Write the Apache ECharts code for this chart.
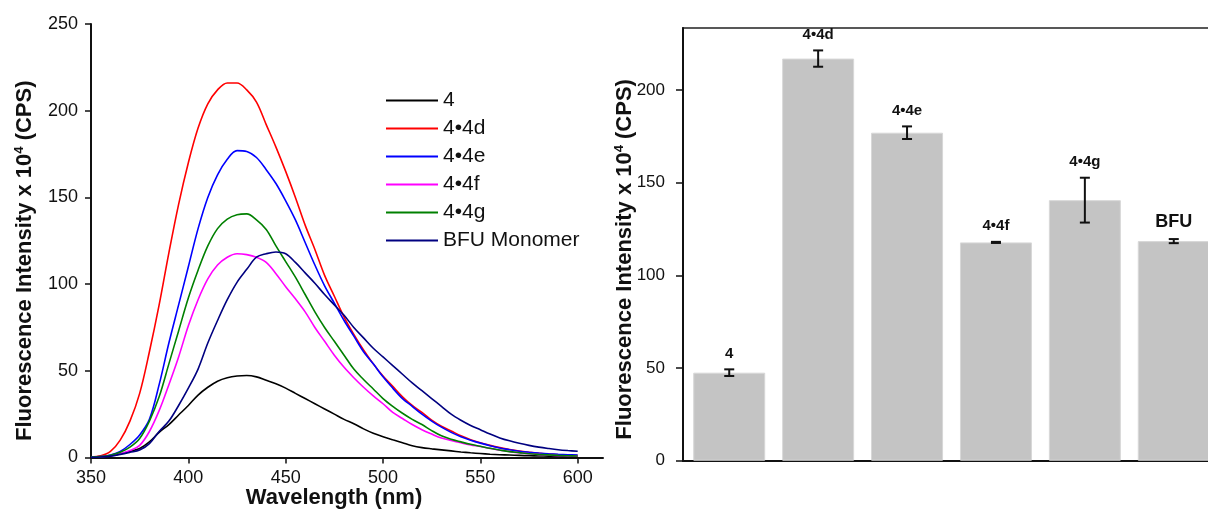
<!DOCTYPE html>
<html lang="en">
<head>
<meta charset="UTF-8">
<title>Fluorescence spectra and intensities</title>
<script src="https://cdn.jsdelivr.net/npm/echarts@6/dist/echarts.min.js"></script>
<style>
    * { margin: 0; padding: 0; }
    body { background: #fff; }
    #chart { width: 1208px; height: 510px; }
</style>
</head>
<body>
<div id="chart"></div>
<script>
    var wavelengths = [350, 355, 360, 365, 370, 375, 380, 385, 390, 395, 400, 405, 410, 415, 420, 425, 430, 435, 440, 445,
        450, 455, 460, 465, 470, 475, 480, 485, 490, 495, 500, 505, 510, 515, 520, 525, 530, 535, 540, 545,
        550, 555, 560, 565, 570, 575, 580, 585, 590, 595, 600];
    var curve4 = [0.2, 0.5, 1, 2, 3.5, 5.2, 9, 14.5, 19, 24.5, 30, 36, 40.5, 44, 46, 47, 47.3, 46.5, 44.5, 42.5,
        40, 37, 34, 31, 28, 25, 22, 19.5, 16.5, 14, 12, 10.2, 8.5, 6.8, 5.7, 5.0, 4.4, 3.8, 3.2, 2.7,
        2.3, 1.9, 1.6, 1.4, 1.2, 1.0, 0.9, 0.8, 0.7, 0.6, 0.6];
    var curve4d = [0.3, 1, 3.5, 10, 21, 37, 61, 88, 118, 146, 170, 190, 204, 212, 216, 216, 212, 205, 192, 179,
        165, 150, 134, 120, 105, 93, 81, 71, 62, 54, 47, 41, 35, 30, 26, 21.5, 18, 15.3, 12.5, 10.3,
        8.5, 7, 5.7, 4.6, 3.7, 3, 2.4, 2, 1.6, 1.3, 1.1];
    var curve4e = [0.2, 0.5, 1.5, 3.5, 7.5, 13, 22, 42, 66, 88, 110, 132, 150, 163, 172, 177, 176.5, 173, 166, 158,
        148, 137, 124, 111, 99, 89, 79, 70, 61, 54, 46.5, 40, 34, 29.5, 25, 21, 17.5, 14.5, 12, 10,
        8.3, 6.8, 5.5, 4.5, 3.6, 3, 2.5, 2.1, 1.8, 1.6, 1.4];
    var curve4f = [0.2, 0.4, 1, 2.2, 4, 7, 15, 27, 42, 58, 76, 91, 103, 111, 115.5, 117.5, 117, 115.5, 112.5, 106,
        98.5, 91.5, 84, 75, 67, 59, 52, 46, 40.5, 35.5, 31, 26, 22.5, 19, 16, 13.5, 11.2, 9.8, 8.5, 7.3,
        6.3, 5.2, 4.2, 3.4, 2.7, 2.2, 1.8, 1.4, 1.1, 0.9, 0.8];
    var curve4g = [0.2, 0.5, 1.3, 3, 6, 11, 21, 35, 54, 73, 92, 108, 122, 132, 137.5, 140, 140.5, 137, 131.5, 122,
        113, 104, 94, 84, 75, 67, 59, 51, 45, 39.5, 34, 29.5, 25.5, 22, 19, 15.5, 12.5, 10.5, 9, 7.6,
        6.5, 5.3, 4.3, 3.4, 2.8, 2.2, 1.8, 1.5, 1.2, 1.0, 0.9];
    var curveBFU = [0.1, 0.3, 0.8, 1.8, 3, 4.3, 8, 15, 21, 30, 40, 51, 66, 79, 91, 101, 108.5, 115.5, 117.5, 118.5,
        117.5, 112.5, 106.5, 100.5, 94, 88, 82, 75, 69, 63, 58, 53, 48, 43, 38.5, 34, 29.5, 25, 21.5, 18.5,
        16, 13.5, 11.3, 9.6, 8.2, 7, 6, 5.2, 4.5, 4, 3.6];
    var curveNames = ['4', '4•4d', '4•4e', '4•4f', '4•4g', 'BFU Monomer'];
    var curveColors = ['#000000', '#ff0000', '#0000ff', '#ff00ff', '#008000', '#000080'];
    var wavelengthTicks = [350, 400, 450, 500, 550, 600];
    var spectrumTicks = [0, 50, 100, 150, 200, 250];

    // bar panel (right)
    var barCategories = ['4', '4•4d', '4•4e', '4•4f', '4•4g', 'BFU'];
    var barValues = [47.5, 217, 177, 117.8, 140.6, 118.5];
    var barErrors = [1.8, 4.4, 3.4, 0.3, 12.1, 1.1];
    var barTicks = [0, 50, 100, 150, 200];

    var font = '"Liberation Sans", Arial, sans-serif';
    var ink = '#111';
    var titleRich = {
        a: {fontFamily: font, fontSize: 22, fontWeight: 'bold', color: ink, lineHeight: 24},
        s: {fontFamily: font, fontSize: 13, fontWeight: 'bold', color: ink, lineHeight: 24, verticalAlign: 'top'}
    };
    var yTitle = '{a|Fluorescence Intensity x 10}{s|4}{a| (CPS)}';

    var chart = echarts.init(document.getElementById('chart'));

    var curves = [curve4, curve4d, curve4e, curve4f, curve4g, curveBFU];
    var lineSeries = curves.map(function (c, i) {
        return {
            name: curveNames[i],
            type: 'line',
            xAxisIndex: 0,
            yAxisIndex: 0,
            data: wavelengths.map(function (w, j) { return [w, c[j]]; }),
            symbol: 'none',
            smooth: 0.35,
            lineStyle: {width: 1.6, color: curveColors[i]},
            itemStyle: {color: curveColors[i]}
        };
    });

    // bar panel x range: bars sit at 0..5, the frame runs off the right edge
    var barMin = -0.52, barMax = 5.43;

    var option = {
        animation: false,
        grid: [
            {left: 91, right: 605, top: 24, bottom: 52.5, outerBoundsMode: 'none'},
            {
                left: 683, right: -4, top: 28, bottom: 49.3, outerBoundsMode: 'none',
                show: true, borderColor: '#222', borderWidth: 1.5
            }
        ],
        legend: {
            data: curveNames,
            orient: 'vertical',
            left: 381,
            top: 85,
            icon: 'rect',
            itemWidth: 52,
            itemHeight: 2,
            itemGap: 7,
            textStyle: {fontFamily: font, fontSize: 21, color: ink, lineHeight: 21}
        },
        xAxis: [
            {
                type: 'value', gridIndex: 0, min: 350, max: 613,
                splitLine: {show: false},
                axisLine: {lineStyle: {color: ink, width: 2}},
                axisTick: {show: true, length: 6, lineStyle: {color: ink, width: 1.5}, customValues: wavelengthTicks},
                axisLabel: {fontFamily: font, fontSize: 18, color: ink, margin: 12, customValues: wavelengthTicks},
                name: 'Wavelength (nm)',
                nameLocation: 'middle',
                nameMoveOverlap: false,
                nameGap: 29,
                nameTextStyle: {fontFamily: font, fontSize: 22, fontWeight: 'bold', color: ink, padding: [0, 26, 0, 0]}
            },
            {
                type: 'value', gridIndex: 1, min: barMin, max: barMax,
                splitLine: {show: false},
                axisLine: {onZero: false, lineStyle: {color: ink, width: 2}},
                axisTick: {show: false},
                axisLabel: {show: false}
            }
        ],
        yAxis: [
            {
                type: 'value', gridIndex: 0, min: 0, max: 250, interval: 50,
                splitLine: {show: false},
                axisLine: {show: true, onZero: false, lineStyle: {color: ink, width: 2}},
                axisTick: {show: true, length: 6, lineStyle: {color: ink, width: 1.5}, customValues: spectrumTicks},
                axisLabel: {fontFamily: font, fontSize: 18, color: ink, margin: 13, customValues: spectrumTicks},
                name: yTitle,
                nameLocation: 'middle',
                nameRotate: 90,
                nameMoveOverlap: false,
                nameGap: 54,
                nameTextStyle: {rich: titleRich, padding: [0, 40, 0, 0]}
            },
            {
                type: 'value', gridIndex: 1, position: 'left', min: 0, max: 233.5,
                splitLine: {show: false},
                axisLine: {show: true, onZero: false, lineStyle: {color: ink, width: 2}},
                axisTick: {show: true, length: 7, lineStyle: {color: ink, width: 1.5}, customValues: barTicks},
                axisLabel: {fontFamily: font, fontSize: 17, color: ink, margin: 18, customValues: barTicks},
                name: yTitle,
                nameLocation: 'middle',
                nameRotate: 90,
                nameMoveOverlap: false,
                nameGap: 46,
                nameTextStyle: {rich: titleRich, padding: [0, 30, 0, 0]}
            }
        ],
        series: lineSeries.concat([
            {
                type: 'bar',
                xAxisIndex: 1,
                yAxisIndex: 1,
                data: barValues.map(function (v, i) { return [i, v]; }),
                barWidth: 72,
                itemStyle: {color: '#c4c4c4', borderColor: '#d8d8d8', borderWidth: 1}
            },
            {
                type: 'custom',
                xAxisIndex: 1,
                yAxisIndex: 1,
                z: 10,
                data: barValues.map(function (v, i) { return [i, v - barErrors[i], v + barErrors[i]]; }),
                renderItem: function (params, api) {
                    var x = api.value(0);
                    var lo = api.coord([x, api.value(1)]);
                    var hi = api.coord([x, api.value(2)]);
                    var cap = 5;
                    var name = barCategories[params.dataIndex];
                    var st = {stroke: ink, lineWidth: 2};
                    return {
                        type: 'group',
                        children: [
                            {type: 'line', shape: {x1: hi[0], y1: hi[1], x2: lo[0], y2: lo[1]}, style: st},
                            {type: 'line', shape: {x1: hi[0] - cap, y1: hi[1], x2: hi[0] + cap, y2: hi[1]}, style: st},
                            {type: 'line', shape: {x1: lo[0] - cap, y1: lo[1], x2: lo[0] + cap, y2: lo[1]}, style: st},
                            {
                                type: 'text', x: hi[0], y: hi[1] - 8,
                                style: {
                                    text: name, fill: ink, fontFamily: font, fontWeight: 'bold',
                                    fontSize: name === 'BFU' ? 18 : 15,
                                    align: 'center', verticalAlign: 'bottom'
                                }
                            }
                        ]
                    };
                }
            }
        ])
    };
    chart.setOption(option);
</script>
</body>
</html>
